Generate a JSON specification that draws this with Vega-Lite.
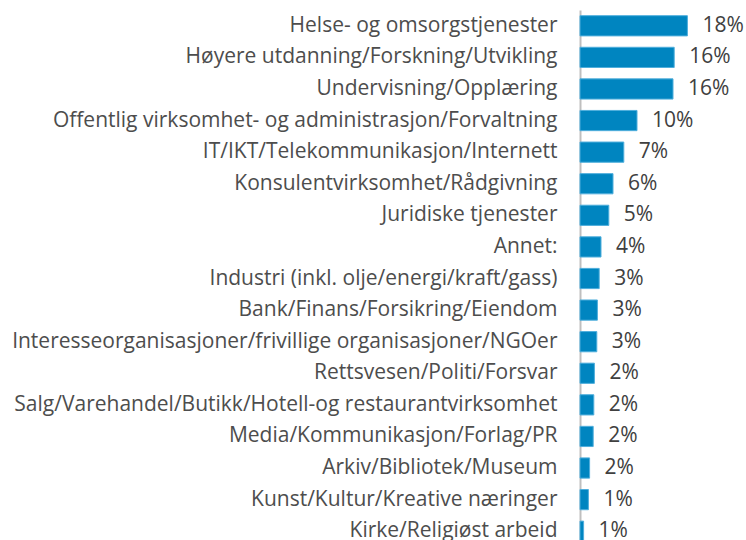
{
  "$schema": "https://vega.github.io/schema/vega-lite/v6.json",
  "width": 162,
  "height": 537,
  "autosize": {"type": "none"},
  "padding": {"left": 580, "top": 10, "right": 4, "bottom": 0},
  "background": "white",
  "config": {"view": {"stroke": null}},
  "data": {"values": [
    {"kategori": "Helse- og omsorgstjenester", "andel": 17.9, "etikett": "18%"},
    {"kategori": "Høyere utdanning/Forskning/Utvikling", "andel": 15.7, "etikett": "16%"},
    {"kategori": "Undervisning/Opplæring", "andel": 15.5, "etikett": "16%"},
    {"kategori": "Offentlig virksomhet- og administrasjon/Forvaltning", "andel": 9.5, "etikett": "10%"},
    {"kategori": "IT/IKT/Telekommunikasjon/Internett", "andel": 7.3, "etikett": "7%"},
    {"kategori": "Konsulentvirksomhet/Rådgivning", "andel": 5.5, "etikett": "6%"},
    {"kategori": "Juridiske tjenester", "andel": 4.8, "etikett": "5%"},
    {"kategori": "Annet:", "andel": 3.5, "etikett": "4%"},
    {"kategori": "Industri (inkl. olje/energi/kraft/gass)", "andel": 3.2, "etikett": "3%"},
    {"kategori": "Bank/Finans/Forsikring/Eiendom", "andel": 2.9, "etikett": "3%"},
    {"kategori": "Interesseorganisasjoner/frivillige organisasjoner/NGOer", "andel": 2.8, "etikett": "3%"},
    {"kategori": "Rettsvesen/Politi/Forsvar", "andel": 2.4, "etikett": "2%"},
    {"kategori": "Salg/Varehandel/Butikk/Hotell-og restaurantvirksomhet", "andel": 2.3, "etikett": "2%"},
    {"kategori": "Media/Kommunikasjon/Forlag/PR", "andel": 2.2, "etikett": "2%"},
    {"kategori": "Arkiv/Bibliotek/Museum", "andel": 1.6, "etikett": "2%"},
    {"kategori": "Kunst/Kultur/Kreative næringer", "andel": 1.4, "etikett": "1%"},
    {"kategori": "Kirke/Religiøst arbeid", "andel": 0.6, "etikett": "1%"}
  ]},
  "encoding": {
    "y": {
      "field": "kategori", "type": "nominal", "sort": null,
      "scale": {"paddingInner": 0.36, "paddingOuter": 0.18},
      "axis": {
        "title": null, "ticks": false, "labelPadding": 23, "labelLimit": 700,
        "labelFont": "Open Sans", "labelFontSize": 21, "labelColor": "#4D4D4D",
        "domainColor": "#BFBFBF", "domainWidth": 2, "grid": false
      }
    },
    "x": {
      "field": "andel", "type": "quantitative",
      "scale": {"domain": [0, 27], "nice": false},
      "axis": null
    }
  },
  "layer": [
    {"mark": {"type": "bar", "color": "#0085C0", "stroke": "#4FAEDC", "strokeWidth": 1}},
    {"mark": {"type": "text", "align": "left", "baseline": "middle", "dx": 15, "font": "Open Sans", "fontSize": 21, "color": "#404040"},
     "encoding": {"text": {"field": "etikett"}}}
  ]
}
